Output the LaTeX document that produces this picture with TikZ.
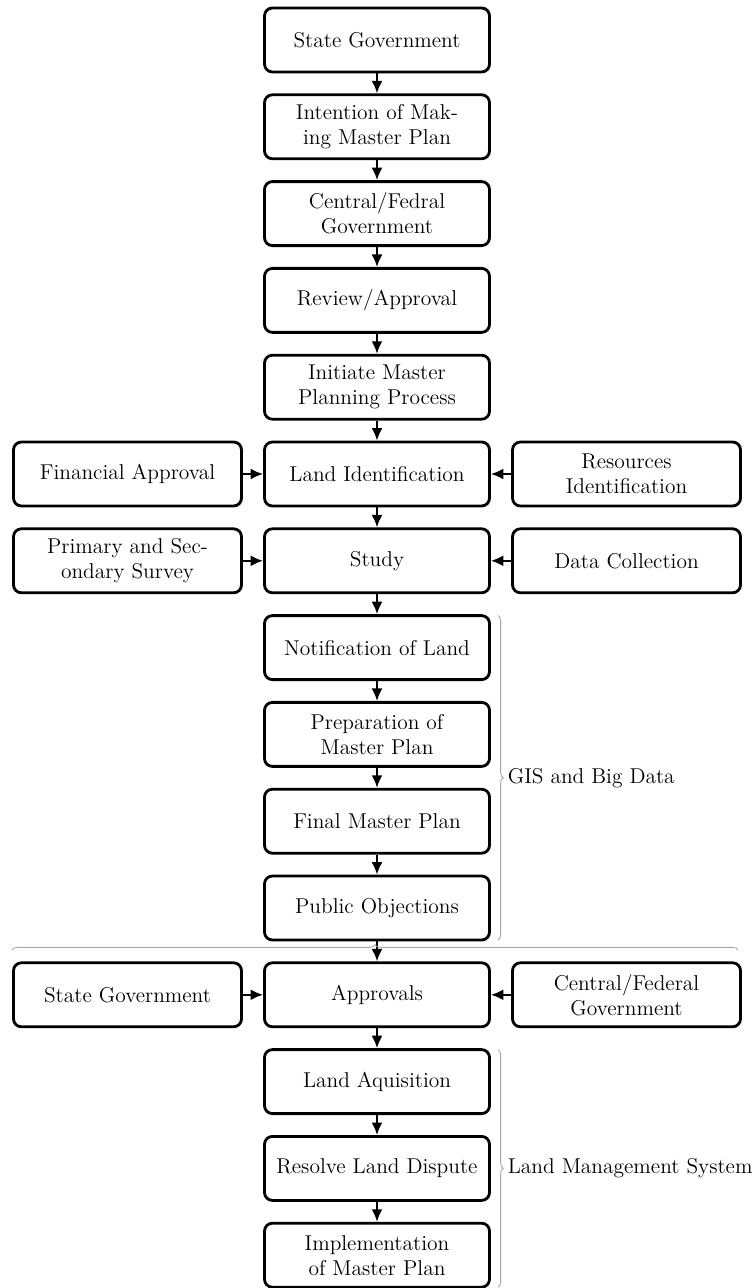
\documentclass[tikz,border=0pt]{standalone}
\usepackage{tikz}
\usetikzlibrary{arrows.meta, positioning, calc, decorations.pathreplacing}

\begin{document}
\begin{tikzpicture}[
    node distance=0.456cm and 0.46cm,
    box/.style={draw, line width=1.6pt, outer sep=0pt, rounded corners=4.5pt, minimum width=4.5cm, minimum height=1.28cm, align=center, inner sep=2pt},
    sidebox/.style={box, minimum width=4.56cm},
    ar/.style={-{Latex[length=2.5mm, width=2.2mm]}, line width=1.2pt, shorten <=0.8pt, shorten >=0.8pt},
    brc/.style={decorate, decoration={brace, amplitude=3pt}, gray!70, line width=0.5pt},
    font=\fontsize{12.2}{14.2}\selectfont
]
\useasboundingbox (0,0) rectangle (15.1,-25.76);
% main column
\node[box] (stgov) at (7.54,-0.8) {State Government};
\node[box, below=of stgov] (intent) {Intention of Mak-\\ing Master Plan};
\node[box, below=of intent] (cgov) {Central/Fedral\\Government};
\node[box, below=of cgov] (review) {Review/Approval};
\node[box, below=of review] (init) {Initiate Master\\Planning Process};
\node[box, below=of init] (landid) {Land Identification};
\node[box, below=of landid] (study) {Study};
\node[box, below=of study] (notif) {Notification of Land};
\node[box, below=of notif] (prep) {Preparation of\\Master Plan};
\node[box, below=of prep] (final) {Final Master Plan};
\node[box, below=of final] (public) {Public Objections};
\node[box, below=of public] (approv) {Approvals};
\node[box, below=of approv] (acq) {Land Aquisition};
\node[box, below=of acq] (resolve) {Resolve Land Dispute};
\node[box, below=of resolve] (impl) {Implementation\\of Master Plan};
% side boxes
\node[sidebox, left=of landid] (fin) {Financial Approval};
\node[sidebox, right=of landid] (res) {Resources\\Identification};
\node[sidebox, left=of study] (survey) {Primary and Sec-\\ondary Survey};
\node[sidebox, right=of study] (data) {Data Collection};
\node[sidebox, left=of approv] (stgov2) {State Government};
\node[sidebox, right=of approv] (cgov2) {Central/Federal\\Government};
% main arrows
\foreach \a/\b in {stgov/intent, intent/cgov, cgov/review, review/init, init/landid, landid/study, study/notif, notif/prep, prep/final, final/public, public/approv, approv/acq, acq/resolve, resolve/impl}
    \draw[ar] (\a) -- (\b);
% side arrows
\draw[ar] (fin) -- (landid);
\draw[ar] (res) -- (landid);
\draw[ar] (survey) -- (study);
\draw[ar] (data) -- (study);
\draw[ar] (stgov2) -- (approv);
\draw[ar] (cgov2) -- (approv);
% braces
\coordinate (gistop) at ($(notif.north east)+(0.17,0)$);
\coordinate (gisbot) at ($(public.south east)+(0.17,0)$);
\draw[brc] (gistop) -- node[right=2pt, text=black]{GIS and Big Data} (gisbot);
\coordinate (lmstop) at ($(acq.north east)+(0.17,0)$);
\coordinate (lmsbot) at ($(impl.south east)+(0.17,0)$);
\draw[brc] (lmstop) -- node[right=2pt, text=black]{Land Management System} (lmsbot);
\coordinate (sepl) at (0.24,-19.0);
\coordinate (sepr) at (14.76,-19.0);
\draw[brc] (sepl) -- (sepr);
\end{tikzpicture}
\end{document}
